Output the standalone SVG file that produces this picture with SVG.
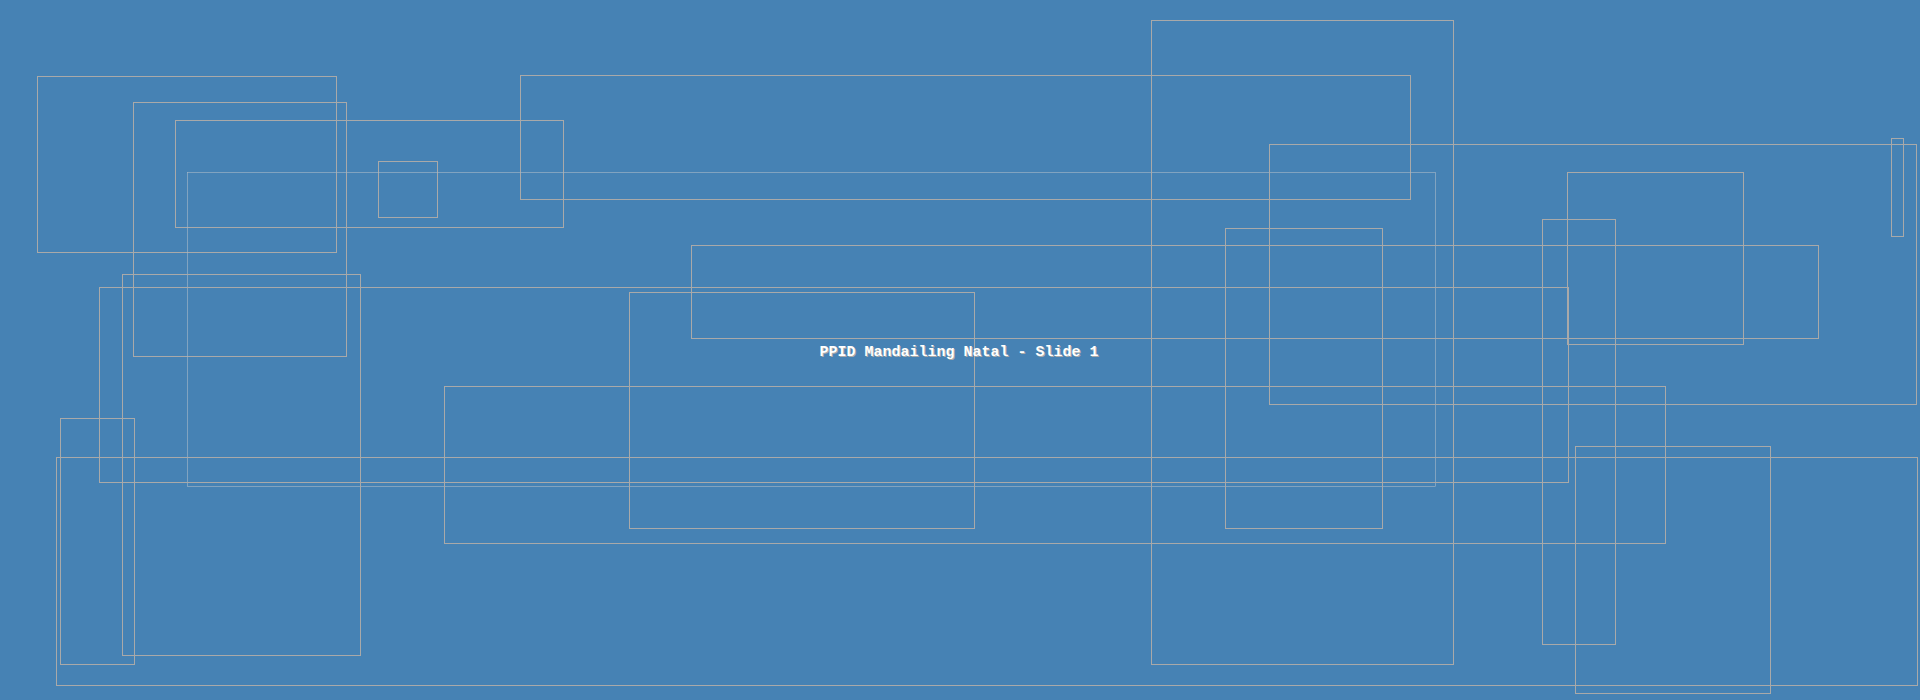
<svg xmlns="http://www.w3.org/2000/svg" width="1920" height="700" viewBox="0 0 1920 700">
<style>
.n{fill:none;stroke:#a9a9a9;stroke-width:1}
.thin{fill:none;stroke:#a9b9c9;stroke-width:0.6}
.t{font-family:"Liberation Mono","DejaVu Sans Mono",monospace;font-size:15px;font-weight:bold;text-anchor:middle}
</style>
<rect width="1920" height="700" fill="#4682b4"/>
<g id="nodes">
<g id="n1"><rect class="n" x="37.5" y="76.5" width="299" height="176"/></g>
<g id="n2"><rect class="n" x="133.5" y="102.5" width="213" height="254"/></g>
<g id="n3"><rect class="n" x="175.5" y="120.5" width="388" height="107"/></g>
<g id="n4"><rect class="n" x="378.5" y="161.5" width="59" height="56"/></g>
<g id="n5"><rect class="n" x="520.5" y="75.5" width="890" height="124"/></g>
<g id="n6"><rect class="thin" x="187.5" y="172.5" width="1248" height="314"/></g>
<g id="n7"><rect class="n" x="1151.5" y="20.5" width="302" height="644"/></g>
<g id="n8"><rect class="n" x="1269.5" y="144.5" width="647" height="260"/></g>
<g id="n9"><rect class="n" x="1567.5" y="172.5" width="176" height="172"/></g>
<g id="n10"><rect class="n" x="1891.5" y="138.5" width="12" height="98"/></g>
<g id="n11"><rect class="n" x="1542.5" y="219.5" width="73" height="425"/></g>
<g id="n12"><rect class="n" x="691.5" y="245.5" width="1127" height="93"/></g>
<g id="n13"><rect class="n" x="1225.5" y="228.5" width="157" height="300"/></g>
<g id="n14"><rect class="n" x="99.5" y="287.5" width="1469" height="195"/></g>
<g id="n15"><rect class="n" x="122.5" y="274.5" width="238" height="381"/></g>
<g id="n16"><rect class="n" x="629.5" y="292.5" width="345" height="236"/></g>
<g id="n17"><rect class="n" x="444.5" y="386.5" width="1221" height="157"/></g>
<g id="n18"><rect class="n" x="60.5" y="418.5" width="74" height="246"/></g>
<g id="n19"><rect class="n" x="56.5" y="457.5" width="1861" height="228"/></g>
<g id="n20"><rect class="n" x="1575.5" y="446.5" width="195" height="247"/></g>
</g>
<g id="connectors"/>
<g id="title">
<text class="t" x="960" y="357" fill="#a9a9a9">PPID Mandailing Natal - Slide 1</text>
<text class="t" x="959" y="356" fill="#ffffff">PPID Mandailing Natal - Slide 1</text>
</g>
</svg>
